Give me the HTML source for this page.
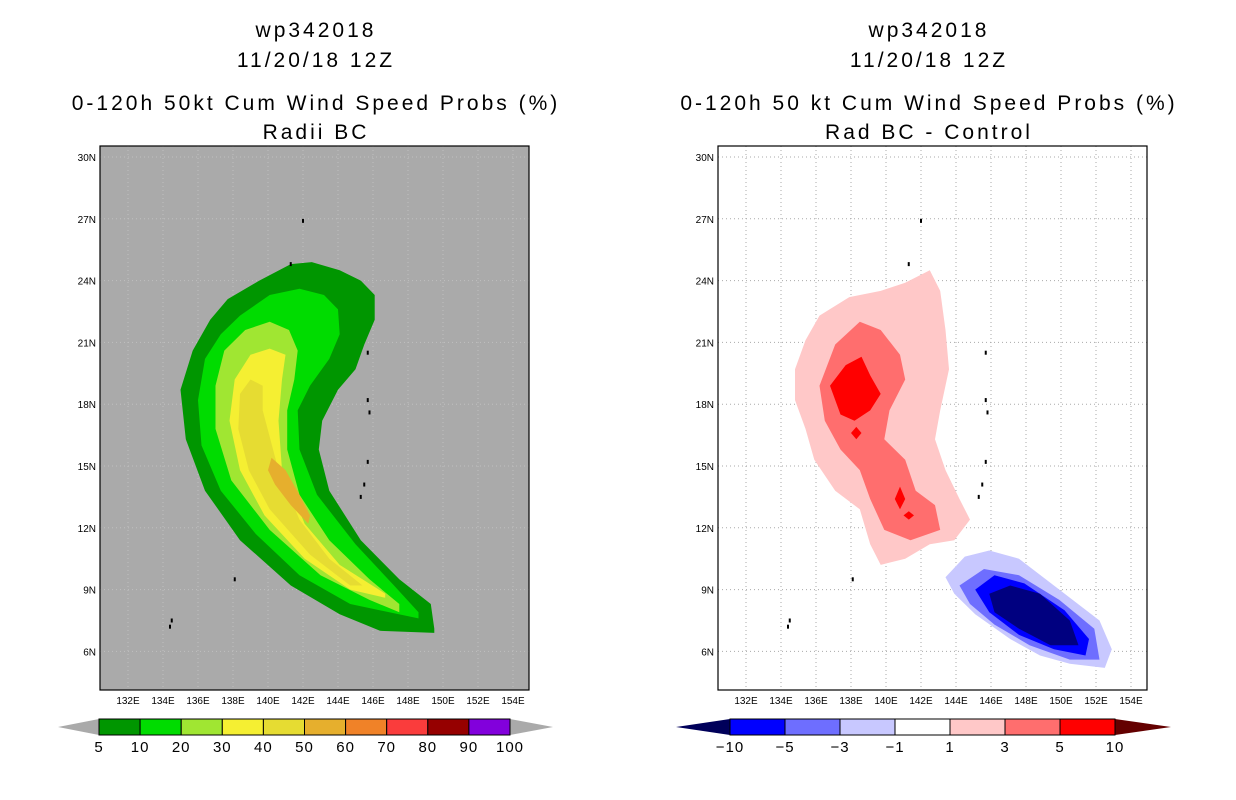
<!DOCTYPE html>
<html><head><meta charset="utf-8"><style>
html,body{margin:0;padding:0;background:#fff;}
svg{display:block;font-family:"Liberation Sans",sans-serif;}
</style></head><body>
<svg id="fig" width="1236" height="800" viewBox="0 0 1236 800">
<g font-size="21" letter-spacing="3" text-anchor="middle" fill="#000">
<text x="316" y="37">wp342018</text>
<text x="316" y="67">11/20/18 12Z</text>
<text x="316" y="110">0-120h 50kt Cum Wind Speed Probs (%)</text>
<text x="316" y="139">Radii BC</text>
</g>
<g font-size="21" letter-spacing="3" text-anchor="middle" fill="#000">
<text x="929" y="37">wp342018</text>
<text x="929" y="67">11/20/18 12Z</text>
<text x="929" y="110">0-120h 50 kt Cum Wind Speed Probs (%)</text>
<text x="929" y="139">Rad BC - Control</text>
</g>
<rect x="100" y="146" width="429" height="544" fill="#aaaaaa"/>
<rect x="718" y="146" width="429" height="544" fill="#fff"/>
<g id="leftGrid"></g><g id="rightGrid"></g>
<g id="leftShapes"></g><g id="rightShapes"></g>
<g id="islands"></g>
<rect x="100" y="146" width="429" height="544" fill="none" stroke="#000" stroke-width="1.2"/>
<rect x="718" y="146" width="429" height="544" fill="none" stroke="#000" stroke-width="1.2"/>
<g id="leftAxis" font-size="10" fill="#000"></g><g id="rightAxis" font-size="10" fill="#000"></g>
<g id="leftBar"></g><g id="rightBar"></g>
</svg>
<script>
const lonTicks=[132,134,136,138,140,142,144,146,148,150,152,154];
const latTicks=[30,27,24,21,18,15,12,9,6];
const leftLevels=["5","10","20","30","40","50","60","70","80","90","100"];
const leftColors=["#009600","#00dc00","#a0e632","#f5ef32","#e6dc32","#e6af2d","#f08228","#fa3c3c","#960000","#8200dc"];
const rightLevels=["\u221210","\u22125","\u22123","\u22121","1","3","5","10"];
const rightColors=["#0000ff","#6e6eff","#c8c8ff","#ffffff","#ffc8c8","#ff6e6e","#ff0000"];
// contour polygons [lon,lat]
const prob5=[[149.5,7.1],[149.3,8.3],[147.5,9.5],[145.3,11.4],[143.5,13.8],[142.9,15.8],[143.1,17.2],[144.0,18.7],[145.0,19.7],[145.5,20.9],[146.1,22.1],[146.1,23.3],[145.3,24.0],[144.1,24.5],[142.5,24.9],[141.3,24.8],[139.5,24.0],[137.7,23.1],[136.7,22.1],[135.7,20.6],[135.0,18.7],[135.3,16.3],[136.4,13.8],[138.4,11.4],[141.3,9.2],[144.1,7.8],[146.4,7.0],[149.5,6.9]];
const prob10=[[148.6,7.9],[147.2,9.2],[145.0,11.2],[142.8,13.6],[141.8,15.8],[141.7,17.7],[142.4,18.9],[143.5,20.2],[144.1,21.4],[144.0,22.6],[143.2,23.3],[141.8,23.6],[140.1,23.3],[138.4,22.3],[137.3,21.4],[136.4,20.2],[136.0,18.2],[136.2,16.0],[137.3,13.8],[139.3,11.7],[141.8,9.7],[144.7,8.3],[148.6,7.6]];
const prob20=[[147.5,8.3],[145.8,9.5],[143.5,11.4],[141.8,13.6],[141.1,15.8],[141.1,17.7],[141.5,19.2],[141.7,20.6],[141.2,21.6],[140.1,22.0],[138.7,21.6],[137.5,20.6],[137.0,18.9],[137.0,16.8],[137.9,14.3],[140.1,11.9],[143.0,9.7],[145.8,8.5],[147.5,7.9]];
const prob30=[[146.7,8.8],[144.1,10.2],[142.1,12.2],[140.8,14.8],[140.6,17.2],[140.8,19.2],[141.0,20.4],[140.1,20.7],[139.0,20.4],[138.1,19.2],[137.8,17.2],[138.4,14.8],[139.8,12.6],[142.1,10.5],[144.7,9.0],[146.7,8.6]];
const prob40=[[145.4,9.2],[143.5,10.5],[141.8,12.4],[140.6,14.8],[139.7,17.7],[139.7,18.9],[139.0,19.2],[138.4,18.5],[138.3,16.8],[138.9,14.8],[140.1,12.9],[142.4,10.7],[144.7,9.2]];
const prob50=[[142.3,12.2],[141.3,13.1],[140.4,14.1],[140.0,14.8],[140.2,15.4],[141.0,14.8],[141.8,13.6],[142.4,12.6]];
const diff1=[[136.2,22.3],[137.9,23.2],[139.7,23.5],[141.1,23.9],[142.5,24.5],[143.1,23.5],[143.4,21.6],[143.6,19.7],[143.1,17.7],[142.8,16.3],[143.4,14.8],[144.2,13.4],[144.8,12.4],[143.9,11.4],[142.5,11.2],[141.1,10.5],[139.7,10.2],[139.1,11.2],[138.5,12.9],[137.1,13.8],[135.9,15.3],[135.4,16.8],[134.8,18.2],[134.8,19.7],[135.4,21.1]];
const diff3=[[137.1,20.9],[138.5,22.0],[139.7,21.6],[140.8,20.4],[141.1,19.2],[140.2,17.7],[139.9,16.3],[141.1,15.3],[141.7,13.8],[142.8,13.1],[143.1,11.9],[141.4,11.4],[139.9,11.9],[139.1,13.4],[138.5,14.8],[137.4,15.8],[136.5,17.2],[136.2,18.9]];
const diff5=[[136.8,18.9],[137.7,19.9],[138.6,20.3],[139.1,19.4],[139.7,18.5],[139.1,17.7],[138.2,17.2],[137.4,17.5]];
const diff5b=[[138.3,16.9],[138.6,16.6],[138.3,16.3],[138.0,16.6]];
const diff5c=[[140.8,14.0],[141.1,13.4],[140.8,12.9],[140.5,13.4]];
const diff5d=[[141.3,12.8],[141.6,12.6],[141.3,12.4],[141.0,12.6]];
const diffM1=[[143.4,9.6],[144.5,10.6],[145.9,10.9],[147.6,10.5],[149.9,9.0],[152.2,7.5],[152.9,6.1],[152.5,5.2],[150.5,5.4],[148.8,5.8],[147.1,6.6],[145.1,7.8],[143.9,8.8]];
const diffM3=[[144.2,9.2],[145.6,10.0],[147.6,9.7],[149.9,8.5],[151.9,7.1],[152.2,5.6],[150.5,5.6],[148.2,6.3],[146.2,7.3],[144.8,8.3]];
const diffM5=[[145.1,9.0],[146.2,9.7],[147.9,9.3],[150.2,8.0],[151.6,6.6],[151.4,5.8],[149.6,6.1],[147.6,6.8],[145.9,7.9]];
const diffM10=[[145.9,8.8],[147.1,9.2],[148.8,8.8],[150.5,7.5],[151.0,6.3],[149.4,6.3],[147.6,7.1],[146.2,7.9]];
const islandPts=[[142.0,26.9],[141.3,24.8],[145.7,20.5],[145.7,18.2],[145.8,17.6],[145.7,15.2],[145.5,14.1],[145.3,13.5],[138.1,9.5],[134.5,7.5],[134.4,7.2]];

const NS='http://www.w3.org/2000/svg';
function mk(tag,attrs,parent){const e=document.createElementNS(NS,tag);for(const k in attrs)e.setAttribute(k,attrs[k]);parent.appendChild(e);return e;}
function xL(lon){return 128+(lon-132)*17.5;}
function xR(lon){return 746+(lon-132)*17.5;}
function yM(lat){return 157+(30-lat)*20.6;}
function pts(poly,xf){return poly.map(p=>xf(p[0]).toFixed(1)+','+yM(p[1]).toFixed(1)).join(' ');}

function grid(gid,xf,x0,color){
  const g=document.getElementById(gid);
  lonTicks.forEach(l=>{
    const ln=mk('line',{x1:xf(l),x2:xf(l),y1:146,y2:690,stroke:color,'stroke-width':1,'stroke-dasharray':'1,3'},g);
    
    
  });
  latTicks.forEach(l=>{
    const ln=mk('line',{x1:x0,x2:x0+429,y1:yM(l),y2:yM(l),stroke:color,'stroke-width':1,'stroke-dasharray':'1,3'},g);
    
    
  });
}
grid('leftGrid',xL,100,'#c0c0c0');
grid('rightGrid',xR,718,'#aaaaaa');

function poly(gid,data,fill,name,xf){
  const p=mk('polygon',{points:pts(data,xf),fill:fill},document.getElementById(gid));
  
  
}
poly('leftShapes',prob5,leftColors[0],'contour-5pct',xL);
poly('leftShapes',prob10,leftColors[1],'contour-10pct',xL);
poly('leftShapes',prob20,leftColors[2],'contour-20pct',xL);
poly('leftShapes',prob30,leftColors[3],'contour-30pct',xL);
poly('leftShapes',prob40,leftColors[4],'contour-40pct',xL);
poly('leftShapes',prob50,leftColors[5],'contour-50pct',xL);
poly('rightShapes',diff1,rightColors[4],'contour-diff-plus1',xR);
poly('rightShapes',diff3,rightColors[5],'contour-diff-plus3',xR);
poly('rightShapes',diff5,rightColors[6],'contour-diff-plus5',xR);
poly('rightShapes',diff5b,rightColors[6],'contour-diff-plus5-spot',xR);
poly('rightShapes',diff5c,rightColors[6],'contour-diff-plus5-spot',xR);
poly('rightShapes',diff5d,rightColors[6],'contour-diff-plus5-spot',xR);
poly('rightShapes',diffM1,rightColors[2],'contour-diff-minus1',xR);
poly('rightShapes',diffM3,rightColors[1],'contour-diff-minus3',xR);
poly('rightShapes',diffM5,rightColors[0],'contour-diff-minus5',xR);
poly('rightShapes',diffM10,'#000080','contour-diff-minus10',xR);

const ig=document.getElementById('islands');
[xL,xR].forEach(xf=>{islandPts.forEach(p=>{
  const r=mk('rect',{x:xf(p[0])-1,y:yM(p[1])-2,width:2,height:4,fill:'#000'},ig);
  
  
});});

function axis(gid,xf,x0){
  const g=document.getElementById(gid);
  lonTicks.forEach(l=>{
    const t=mk('text',{x:xf(l),y:704,'text-anchor':'middle'},g);t.textContent=l+'E';
    
    
  });
  latTicks.forEach(l=>{
    const t=mk('text',{x:x0-4,y:yM(l)+4,'text-anchor':'end'},g);t.textContent=l+'N';
    
    
  });
}
axis('leftAxis',xL,100);
axis('rightAxis',xR,718);

function bar(gid,x0,x1,tipL,tipR,levels,colors,lc,rc){
  const g=document.getElementById(gid);
  const n=colors.length,w=(x1-x0)/n;
  const a=mk('polygon',{points:`${tipL},727 ${x0},719 ${x0},735`,fill:lc},g);
  
  
  const b=mk('polygon',{points:`${tipR},727 ${x1},719 ${x1},735`,fill:rc},g);
  
  
  colors.forEach((c,i)=>{
    const r=mk('rect',{x:x0+i*w,y:719,width:w,height:16,fill:c,stroke:'#000','stroke-width':1},g);
    
    
  });
  levels.forEach((l,i)=>{
    const t=mk('text',{x:x0+i*w,y:752,'text-anchor':'middle','font-size':15,'letter-spacing':1},g);t.textContent=l;
    
    
  });
}
bar('leftBar',99,510,58,553,leftLevels,leftColors,'#aaaaaa','#aaaaaa');
bar('rightBar',730,1115,676,1171,rightLevels,rightColors,'#00005a','#640000');
</script>
</body></html>
